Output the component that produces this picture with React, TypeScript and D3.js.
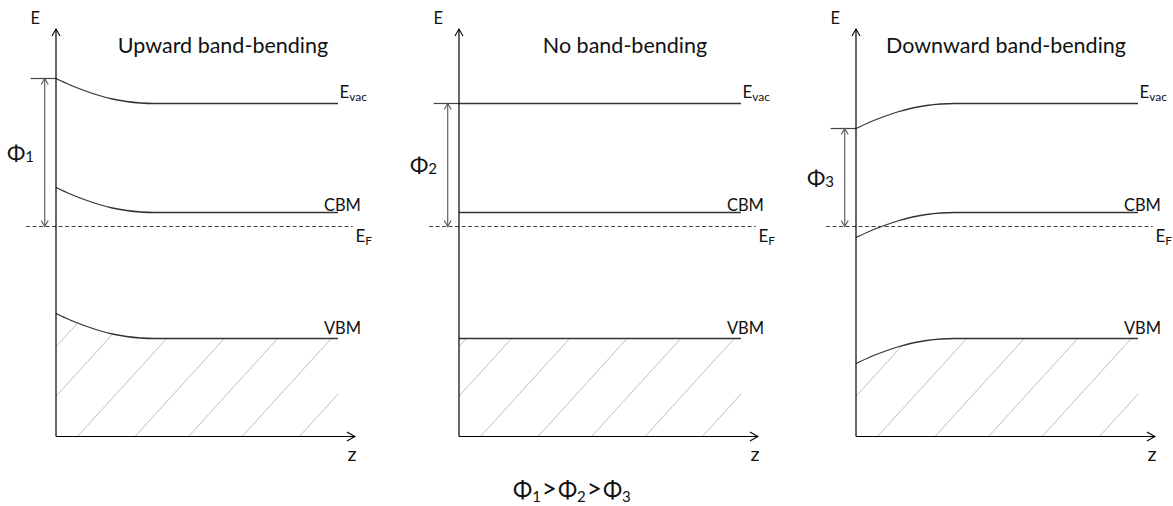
import React from 'react'
import * as d3 from 'd3'

const W = 1173
const H = 506

// panel content
const titles = ['Upward band-bending', 'No band-bending', 'Downward band-bending']
const phiSubs = ['1', '2', '3']
const surfaceBend = [1, 0, -1] // band shift at the surface (z = 0)

// band levels far from the surface, E_F = 0
const bandNames = ['vac', 'CBM', 'VBM']
const bandLevels = [4.92, 0.56, -4.48]

// shape of the bending near the surface
const bendZ = [0, 0.5, 1, 1.5, 2, 2.5, 3, 3.5, 10]
const bendShape = [1, 0.74, 0.52, 0.33, 0.18, 0.08, 0.02, 0, 0]

// hatch lines of the filled valence band, z where each meets the bottom axis
const hatchZ = [-2.9, -1.3, 0.76, 2.8, 4.7, 6.6, 8.63]

const eTop = 7.9
const eBottom = -8.4
const zEnd = 10

// layout
const panelX = [56, 459, 856]
const titleX = [223, 625, 1006]
const FONT = 'Lato, "Noto Sans", "DejaVu Sans", sans-serif'
const INK = '#111'

const y = d3.scaleLinear().domain([eBottom, eTop]).range([436.5, 29])

function Panel({ i }: { i: number }) {
  const ox = panelX[i]
  const x = d3.scaleLinear().domain([0, zEnd]).range([ox, ox + 282])
  const bend = surfaceBend[i]
  const pts = (level: number) => bendZ.map((z, k) => [z, level + bend * bendShape[k]] as [number, number])
  const line = d3.line<[number, number]>().x(d => x(d[0])).y(d => y(d[1])).curve(d3.curveMonotoneX)
  const vbArea = d3.area<[number, number]>().x(d => x(d[0])).y0(y(eBottom)).y1(d => y(d[1])).curve(d3.curveMonotoneX)

  const evacSurf = bandLevels[0] + bend
  const x0 = x(0)
  const yb = y(eBottom)
  const yt = y(eTop)
  const xAxisEnd = x(10.6)
  const arrowX = x(-0.4)
  const clipId = `vb-clip-${i}`

  return (
    <g>
      <defs>
        <clipPath id={clipId}>
          <path d={vbArea(pts(bandLevels[2])) || ''} />
        </clipPath>
      </defs>

      {/* hatching */}
      <g clipPath={`url(#${clipId})`} stroke="#a9c4dc" strokeWidth={1}>
        {hatchZ.map((z, k) => {
          const hx = x(z)
          return <line key={k} x1={hx} y1={yb} x2={hx + 0.91 * (yb - yt)} y2={yt} />
        })}
      </g>

      {/* bands */}
      {bandLevels.map((lv, k) => (
        <path key={k} d={line(pts(lv)) || ''} fill="none" stroke="#333" strokeWidth={1.3} />
      ))}

      {/* Fermi level */}
      <line x1={x(-1.06)} x2={x(10.52)} y1={y(0)} y2={y(0)} stroke="#444" strokeWidth={1.1} strokeDasharray="4,2.5" />

      {/* work function */}
      <line x1={x(-0.9)} x2={x0} y1={y(evacSurf)} y2={y(evacSurf)} stroke="#444" strokeWidth={1.2} />
      <line x1={arrowX} x2={arrowX} y1={y(evacSurf)} y2={y(0)} stroke="#555" strokeWidth={1.1} />
      <path d={`M${arrowX - 3.5},${y(evacSurf) + 6}L${arrowX},${y(evacSurf)}L${arrowX + 3.5},${y(evacSurf) + 6}`} fill="none" stroke="#555" strokeWidth={1.1} />
      <path d={`M${arrowX - 3.5},${y(0) - 6}L${arrowX},${y(0)}L${arrowX + 3.5},${y(0) - 6}`} fill="none" stroke="#555" strokeWidth={1.1} />
      <text x={ox - 49} y={(y(evacSurf) + y(0)) / 2 + 8} fontSize={22} fill={INK}>
        Φ<tspan fontSize={15} dy={1}>{phiSubs[i]}</tspan>
      </text>

      {/* axes */}
      <line x1={x0} x2={x0} y1={yb} y2={yt} stroke="#000" strokeWidth={1.2} />
      <path d={`M${x0 - 4},${yt + 7}L${x0},${yt}L${x0 + 4},${yt + 7}`} fill="none" stroke="#000" strokeWidth={1.1} />
      <line x1={x0} x2={xAxisEnd} y1={yb} y2={yb} stroke="#000" strokeWidth={1.2} />
      <path d={`M${xAxisEnd - 8},${yb - 4.5}L${xAxisEnd},${yb}L${xAxisEnd - 8},${yb + 4.5}`} fill="none" stroke="#000" strokeWidth={1.1} />
      <text x={ox - 16} y={24} fontSize={16.5} textAnchor="end" fill={INK}>E</text>
      <text x={xAxisEnd - 3} y={461} fontSize={20} textAnchor="middle" fill={INK}>z</text>

      {/* labels */}
      <text x={titleX[i]} y={53} fontSize={21.5} textAnchor="middle" fill={INK}>{titles[i]}</text>
      <text x={x(10.05)} y={y(bandLevels[0]) - 6} fontSize={17} fill={INK}>
        E<tspan fontSize={12} dy={3}>{bandNames[0]}</tspan>
      </text>
      <text x={x(9.5)} y={y(bandLevels[1]) - 2} fontSize={16.5} fill={INK}>{bandNames[1]}</text>
      <text x={x(9.5)} y={y(bandLevels[2]) - 5} fontSize={16.5} fill={INK}>{bandNames[2]}</text>
      <text x={x(10.62)} y={y(0) + 15} fontSize={17} fill={INK}>
        E<tspan fontSize={12} dy={3}>F</tspan>
      </text>
    </g>
  )
}

export default function App() {
  return (
    <svg width={W} height={H} viewBox={`0 0 ${W} ${H}`} style={{ position: 'absolute', left: 0, top: 0, background: '#fff' }} fontFamily={FONT}>
      <rect width={W} height={H} fill="#fff" />
      {titles.map((_, i) => <Panel key={i} i={i} />)}
      <text x={513} y={498} fontSize={23} fill={INK}>
        Φ<tspan fontSize={15} dy={4}>{phiSubs[0]}</tspan>
        <tspan dx={1} dy={-4} fontSize={26}>&gt;</tspan><tspan dx={1}>Φ</tspan><tspan fontSize={15} dy={4}>{phiSubs[1]}</tspan>
        <tspan dx={1} dy={-4} fontSize={26}>&gt;</tspan><tspan dx={1}>Φ</tspan><tspan fontSize={15} dy={4}>{phiSubs[2]}</tspan>
      </text>
    </svg>
  )
}
